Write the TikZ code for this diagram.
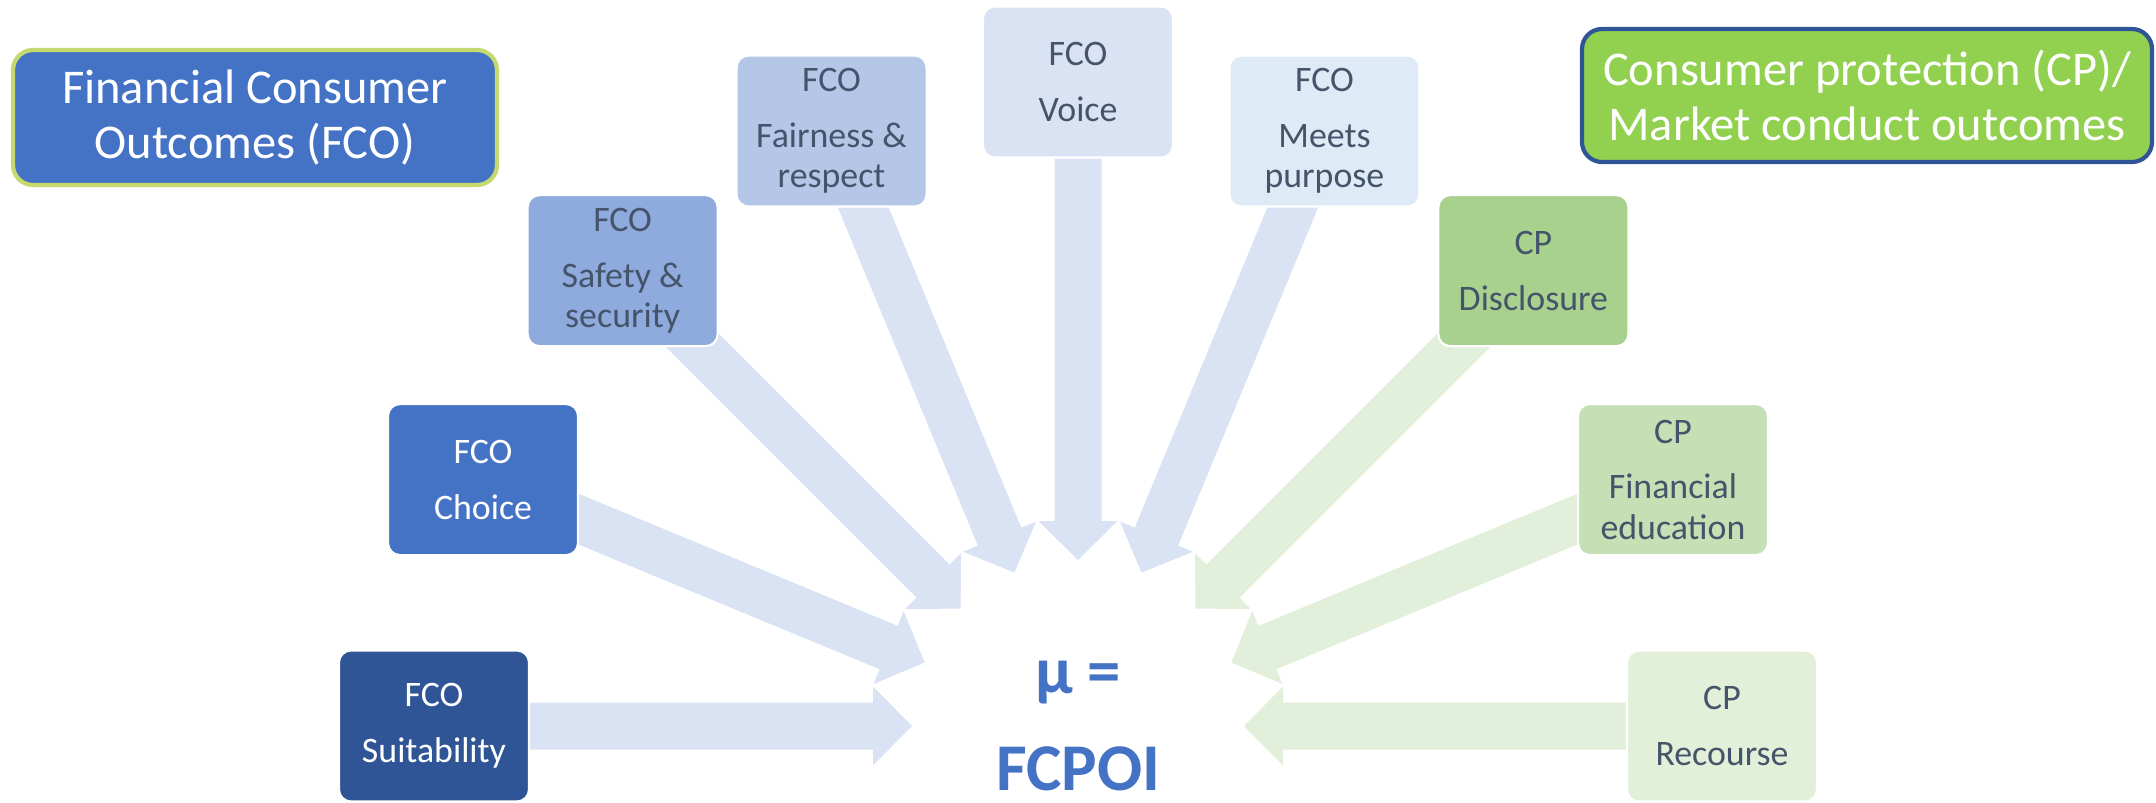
\documentclass[tikz,border=0pt]{standalone}
\usepackage{fontspec}
\setmainfont{Carlito}
\usetikzlibrary{calc,backgrounds}
\definecolor{fcodark}{RGB}{47,85,151}
\definecolor{fcoblue}{RGB}{68,114,196}
\definecolor{fcomid}{RGB}{143,170,220}
\definecolor{fcolight}{RGB}{180,199,231}
\definecolor{fcopale}{RGB}{218,227,243}
\definecolor{fcofaint}{RGB}{222,235,247}
\definecolor{cpgreen}{RGB}{146,208,80}
\definecolor{cpmid}{RGB}{169,209,142}
\definecolor{cplight}{RGB}{197,224,180}
\definecolor{cppale}{RGB}{226,240,217}
\definecolor{arrowblue}{RGB}{218,227,243}
\definecolor{arrowgreen}{RGB}{226,239,218}
\definecolor{limeline}{RGB}{197,218,110}
\definecolor{textslate}{RGB}{68,84,106}
\tikzset{
  outcome box/.style={
    rectangle,
    rounded corners=0.12cm,
    draw=white,
    line width=0.6pt,
    minimum width=1.9cm,
    minimum height=1.51cm,
    inner sep=0pt,
    align=center,
    text=textslate,
    font=\fontsize{10.2}{11.4}\selectfont
  },
  fco box/.style={outcome box, fill=#1},
  cp box/.style={outcome box, fill=#1},
  title box/.style={
    rectangle,
    rounded corners=0.2cm,
    line width=1.2pt,
    inner sep=0pt,
    align=center,
    text=white,
    font=\fontsize{13.8}{15.8}\selectfont
  },
  index label/.style={
    inner sep=0pt,
    text=fcoblue,
    font=\fontsize{19}{21}\selectfont\bfseries
  }
}
% block arrow: colour, tail node, tip coordinate
\newcommand{\fatarrow}[3]{%
  \coordinate (hb) at ($(#3)!0.39cm!(#2)$);
  \fill[#1] ($(#2)!0.235cm!90:(#3)$) -- ($(hb)!0.235cm!-90:(#2)$)
    -- ($(hb)!0.395cm!-90:(#2)$) -- (#3) -- ($(hb)!0.395cm!90:(#2)$)
    -- ($(hb)!0.235cm!90:(#2)$) -- ($(#2)!0.235cm!-90:(#3)$) -- cycle;
}

\begin{document}
\begin{tikzpicture}

  \useasboundingbox (0,0) rectangle (21.56,8.02);

  % Hub of the converging arrows
  \coordinate (hub) at (10.78,0.76);

  % Legend boxes
  \node[title box, fill=fcoblue, draw=limeline, minimum width=4.84cm, minimum height=1.35cm]
    (fcotitle) at (2.55,6.845) {Financial Consumer\\Outcomes (FCO)};
  \node[title box, fill=cpgreen, draw=fcodark, minimum width=5.70cm, minimum height=1.33cm]
    (cptitle) at (18.67,7.065) {Consumer protection (CP)/\\Market conduct outcomes};

  % Outcome boxes on a half circle
  \node[fco box=fcodark, text=white] (suit) at ($(hub)+(180:6.44)$) {FCO\\[4.5pt]Suitability};
  \node[fco box=fcoblue, text=white] (choice) at ($(hub)+(157.5:6.44)$) {FCO\\[4.5pt]Choice};
  \node[fco box=fcomid] (safety) at ($(hub)+(135:6.44)$) {FCO\\[4.5pt]Safety \&\\security};
  \node[fco box=fcolight] (fair) at ($(hub)+(112.5:6.44)$) {FCO\\[4.5pt]Fairness \&\\respect};
  \node[fco box=fcopale] (voice) at ($(hub)+(90:6.44)$) {FCO\\[4.5pt]Voice};
  \node[fco box=fcofaint] (purpose) at ($(hub)+(67.5:6.44)$) {FCO\\[4.5pt]Meets\\purpose};
  \node[cp box=cpmid] (disclosure) at ($(hub)+(45:6.44)$) {CP\\[4.5pt]Disclosure};
  \node[cp box=cplight] (education) at ($(hub)+(22.5:6.44)$) {CP\\[4.5pt]Financial\\education};
  \node[cp box=cppale] (recourse) at ($(hub)+(0:6.44)$) {CP\\[4.5pt]Recourse};

  % Centre
  \node[index label] (mu) at (10.78,1.19) {µ =};
  \node[index label] (fcpoi) at (10.78,0.33) {FCPOI};

  % Arrows behind the boxes
  \begin{scope}[on background layer]
    \foreach \src/\ang in {suit/180, choice/157.5, safety/135, fair/112.5, voice/90, purpose/67.5}
    {
      \coordinate (tip) at ($(hub)+(\ang:1.66)$);
      \fatarrow{arrowblue}{\src}{tip}
    }
    \foreach \src/\ang in {disclosure/45, education/22.5, recourse/0}
    {
      \coordinate (tip) at ($(hub)+(\ang:1.66)$);
      \fatarrow{arrowgreen}{\src}{tip}
    }
  \end{scope}

\end{tikzpicture}
\end{document}
